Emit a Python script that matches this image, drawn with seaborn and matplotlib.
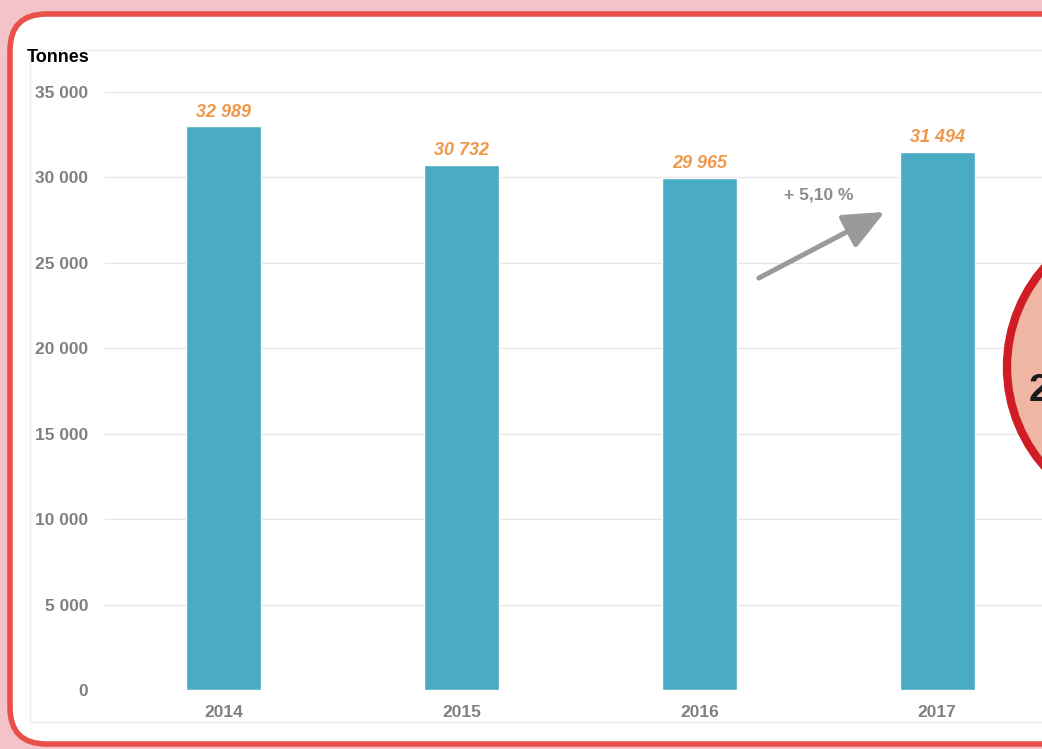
import numpy as np
import pandas as pd
import matplotlib
matplotlib.use('Agg')
import matplotlib.pyplot as plt
import matplotlib.patches as patches
import seaborn as sns

# data
years = ['2014', '2015', '2016', '2017']
tonnes = [32989, 30732, 29965, 31494]
value_labels = ['32 989', '30 732', '29 965', '31 494']
y_ticks = [0, 5000, 10000, 15000, 20000, 25000, 30000, 35000]
y_tick_labels = ['0', '5 000', '10 000', '15 000', '20 000', '25 000', '30 000', '35 000']
growth_label = '+ 5,10 %'

BAR = '#4aabc4'
ORANGE = '#f0984a'
GREY = '#808080'

sns.set_theme(style='white')
plt.rcParams['font.family'] = ['Liberation Sans', 'DejaVu Sans']

W, H = 1042, 749
fig = plt.figure(figsize=(W / 100, H / 100), dpi=100)
fig.patch.set_facecolor('#f4c3ca')

def fx(px):
    return px / W

def fy(py):
    return 1 - py / H

# rounded white card with red border
card = patches.FancyBboxPatch((fx(10), fy(744)), fx(1100), fy(14) - fy(744),
                              boxstyle='round,pad=0,rounding_size=0.035',
                              transform=fig.transFigure, facecolor='white',
                              edgecolor='#e8504a', linewidth=4, mutation_aspect=W / H,
                              zorder=-2)
fig.add_artist(card)

# faint chart frame
frame = patches.Rectangle((fx(30), fy(722)), fx(1100), fy(50) - fy(722),
                          transform=fig.transFigure, facecolor='none',
                          edgecolor='#ececec', linewidth=1, zorder=-1)
fig.add_artist(frame)

ax = fig.add_axes([fx(105), fy(690), fx(1056) - fx(105), fy(92) - fy(690)])
ax.set_facecolor('none')

df = pd.DataFrame({'year': years, 'tonnes': tonnes})
sns.barplot(data=df, x='year', y='tonnes', color=BAR, saturation=1, width=0.315, ax=ax, zorder=3)

ax.set_ylim(0, 35000)
ax.set_xlim(-0.5, 3.5)
ax.set_yticks(y_ticks)
ax.set_yticklabels(y_tick_labels)
ax.yaxis.grid(True, color='#e6e6e6', linewidth=1)
ax.set_axisbelow(True)
for s in ax.spines.values():
    s.set_visible(False)
ax.set_xlabel('')
ax.set_ylabel('')
ax.tick_params(axis='both', length=0, labelsize=12.5, labelcolor=GREY)
ax.tick_params(axis='y', pad=12)
ax.tick_params(axis='x', pad=11)
for lab in ax.get_xticklabels() + ax.get_yticklabels():
    lab.set_fontweight('bold')

for i, (v, lab) in enumerate(zip(tonnes, value_labels)):
    ax.annotate(lab, (i, v), xytext=(0, 4), textcoords='offset points',
                ha='center', va='bottom', color=ORANGE, fontsize=13,
                fontweight='bold', fontstyle='italic')

# growth arrow between 2016 and 2017
ax.annotate('', xy=(2.78, 27980), xytext=(2.25, 24110),
            arrowprops=dict(arrowstyle='-|>,head_length=1.25,head_width=0.55',
                            mutation_scale=20, shrinkA=0, shrinkB=0,
                            color='#9a9a9a', lw=3.6), zorder=5)
ax.text(2.5, 28970, growth_label, ha='center', va='center', color='#8c8c8c',
        fontsize=12.5, fontweight='bold')

fig.text(fx(27), fy(58), 'Tonnes', ha='left', va='center', fontsize=13,
         fontweight='bold', color='black')

# partial badge on the right edge
badge = patches.Ellipse((fx(1158), fy(367)), fx(302), 302 / H,
                        transform=fig.transFigure, facecolor='#f0b6a4',
                        edgecolor='#d01c24', linewidth=6, zorder=10)
fig.add_artist(badge)
fig.text(fx(1029), fy(391), '2', ha='left', va='center', fontsize=28,
         fontweight='bold', color='#1a1a1a', zorder=11)

fig.savefig('out.png', dpi=100, facecolor=fig.get_facecolor())
